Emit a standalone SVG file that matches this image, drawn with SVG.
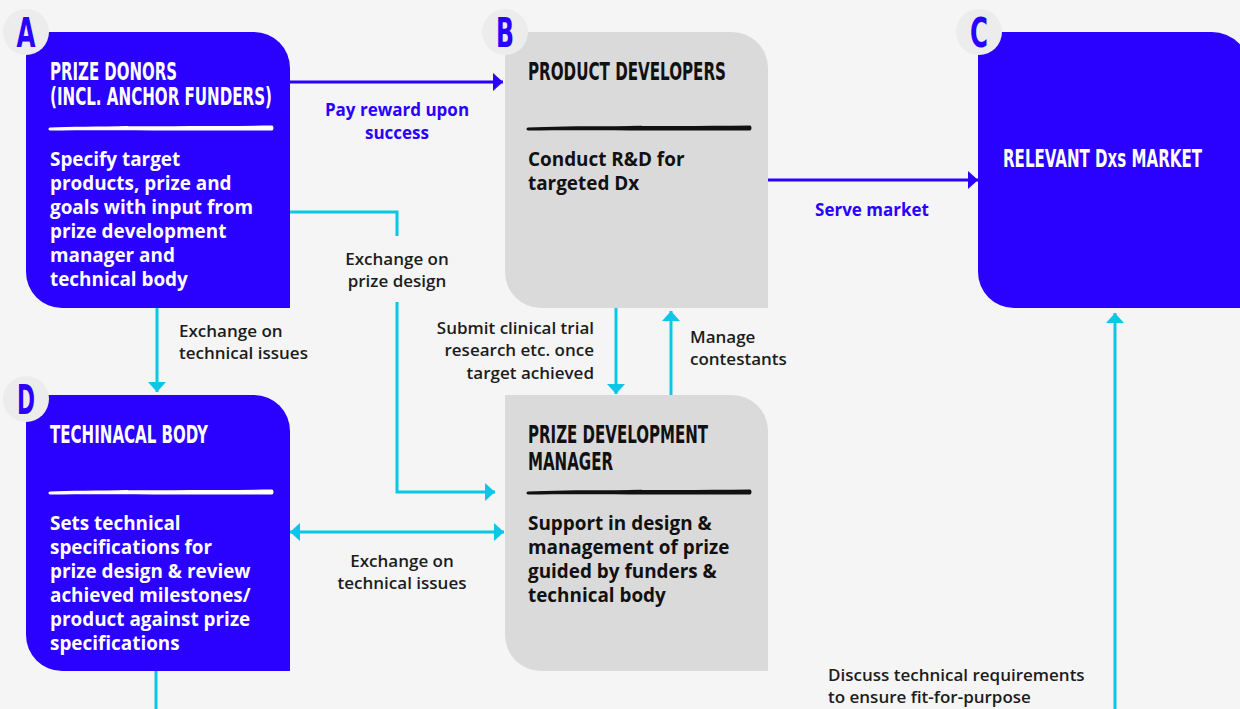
<svg xmlns="http://www.w3.org/2000/svg" width="1240" height="709" viewBox="0 0 1240 709">
  <defs>
    <style>
      .bg { fill: #f5f5f5; }
      .blue { fill: #2a00ff; }
      .grey { fill: #dadada; }
      .badge { fill: #ececec; }
      .badge-txt { font-family: "Liberation Sans Narrow", "DejaVu Sans Condensed", "Liberation Sans", sans-serif; font-weight: 700; font-size: 41px; fill: #2a00ff; text-anchor: middle; }
      .title { font-family: "Liberation Sans Narrow", "DejaVu Sans Condensed", "Liberation Sans", sans-serif; font-weight: 700; font-size: 24px; }
      .body { font-family: "Open Sans", "Liberation Sans", sans-serif; font-weight: 700; font-size: 18.9px; }
      .w { fill: #ffffff; }
      .k { fill: #111111; }
      .lbl { font-family: "Open Sans", "Liberation Sans", sans-serif; font-weight: 600; font-size: 17px; fill: #1c1c1c; }
      .lbl-b { font-family: "Open Sans", "Liberation Sans", sans-serif; font-weight: 700; font-size: 17px; fill: #2a00ff; }
      .mid { text-anchor: middle; }
      .end { text-anchor: end; }
      .cy { stroke: #0bc7e6; stroke-width: 3; fill: none; }
      .bl { stroke: #2a00ff; stroke-width: 3; fill: none; }
    </style>
    <marker id="headCyan" viewBox="0 0 10 18" refX="10" refY="9" markerWidth="10" markerHeight="18" markerUnits="userSpaceOnUse" orient="auto-start-reverse">
      <path d="M0,0 L10,9 L0,18 Z" fill="#0bc7e6"/>
    </marker>
    <marker id="headBlue" viewBox="0 0 10 18" refX="10" refY="9" markerWidth="10" markerHeight="18" markerUnits="userSpaceOnUse" orient="auto-start-reverse">
      <path d="M0,0 L10,9 L0,18 Z" fill="#2a00ff"/>
    </marker>
    <!-- brush-stroke rule used under each box title -->
    <path id="brush" d="M0,1.5 C40,-0.5 120,0.5 222,-0.5 C224,0 224,4 222,4.5 C150,5 60,3.5 0,4.5 C-2,4 -2,2 0,1.5 Z"/>
  </defs>

  <rect class="bg" x="0" y="0" width="1240" height="709"/>

  <!-- connectors -->
  <g id="connectors">
    <path class="bl" d="M290,82 H503" marker-end="url(#headBlue)"/>
    <path class="bl" d="M768,180 H978" marker-end="url(#headBlue)"/>
    <path class="cy" d="M290,212 H397 V236"/>
    <path class="cy" d="M397,302 V492 H495" marker-end="url(#headCyan)"/>
    <path class="cy" d="M157,308 V392" marker-end="url(#headCyan)"/>
    <path class="cy" d="M616,308 V394" marker-end="url(#headCyan)"/>
    <path class="cy" d="M671,395 V311" marker-end="url(#headCyan)"/>
    <path class="cy" d="M290,532 H504" marker-start="url(#headCyan)" marker-end="url(#headCyan)"/>
    <path class="cy" d="M156,671 V709"/>
    <path class="cy" d="M1115,709 V313" marker-end="url(#headCyan)"/>
  </g>

  <!-- A: prize donors -->
  <g id="node-a">
    <path class="blue" d="M26,32 H254 A36,36 0 0 1 290,68 V308 H62 A36,36 0 0 1 26,272 Z"/>
    <text class="title w" x="50" y="80" textLength="127" lengthAdjust="spacingAndGlyphs">PRIZE DONORS</text>
    <text class="title w" x="50" y="105" textLength="222" lengthAdjust="spacingAndGlyphs">(INCL. ANCHOR FUNDERS)</text>
    <use href="#brush" x="50" y="126" fill="#ffffff"/>
    <text class="body w" x="50" y="166">Specify target</text>
    <text class="body w" x="50" y="190">products, prize and</text>
    <text class="body w" x="50" y="214">goals with input from</text>
    <text class="body w" x="50" y="238">prize development</text>
    <text class="body w" x="50" y="262">manager and</text>
    <text class="body w" x="50" y="286">technical body</text>
    <circle class="badge" cx="26" cy="32" r="23"/>
    <text class="badge-txt" x="26" y="47" textLength="19" lengthAdjust="spacingAndGlyphs">A</text>
  </g>

  <!-- B: product developers -->
  <g id="node-b">
    <path class="grey" d="M505,32 H732 A36,36 0 0 1 768,68 V308 H541 A36,36 0 0 1 505,272 Z"/>
    <text class="title k" x="528" y="80" textLength="198" lengthAdjust="spacingAndGlyphs">PRODUCT DEVELOPERS</text>
    <use href="#brush" x="528" y="126" fill="#111111"/>
    <text class="body k" x="528" y="166">Conduct R&amp;D for</text>
    <text class="body k" x="528" y="190">targeted Dx</text>
    <circle class="badge" cx="505" cy="32" r="23"/>
    <text class="badge-txt" x="505" y="47" textLength="18" lengthAdjust="spacingAndGlyphs">B</text>
  </g>

  <!-- C: market (box runs off the right edge) -->
  <g id="node-c">
    <path class="blue" d="M978,32 H1212 A38,38 0 0 1 1250,70 V308 H1014 A36,36 0 0 1 978,272 Z"/>
    <text class="title w" x="1003" y="167" textLength="199" lengthAdjust="spacingAndGlyphs">RELEVANT Dxs MARKET</text>
    <circle class="badge" cx="979" cy="32" r="23"/>
    <text class="badge-txt" x="979" y="47" textLength="18" lengthAdjust="spacingAndGlyphs">C</text>
  </g>

  <!-- D: technical body -->
  <g id="node-d">
    <path class="blue" d="M26,395 H254 A36,36 0 0 1 290,431 V671 H62 A36,36 0 0 1 26,635 Z"/>
    <text class="title w" x="50" y="443" textLength="158" lengthAdjust="spacingAndGlyphs">TECHINACAL BODY</text>
    <use href="#brush" x="50" y="490" fill="#ffffff"/>
    <text class="body w" x="50" y="530">Sets technical</text>
    <text class="body w" x="50" y="554">specifications for</text>
    <text class="body w" x="50" y="578">prize design &amp; review</text>
    <text class="body w" x="50" y="602">achieved milestones/</text>
    <text class="body w" x="50" y="626">product against prize</text>
    <text class="body w" x="50" y="650">specifications</text>
    <circle class="badge" cx="26" cy="399" r="23"/>
    <text class="badge-txt" x="26" y="414" textLength="18" lengthAdjust="spacingAndGlyphs">D</text>
  </g>

  <!-- E: prize development manager -->
  <g id="node-e">
    <path class="grey" d="M505,395 H732 A36,36 0 0 1 768,431 V671 H541 A36,36 0 0 1 505,635 Z"/>
    <text class="title k" x="528" y="443" textLength="180" lengthAdjust="spacingAndGlyphs">PRIZE DEVELOPMENT</text>
    <text class="title k" x="528" y="470" textLength="85" lengthAdjust="spacingAndGlyphs">MANAGER</text>
    <use href="#brush" x="528" y="490" fill="#111111"/>
    <text class="body k" x="528" y="530">Support in design &amp;</text>
    <text class="body k" x="528" y="554">management of prize</text>
    <text class="body k" x="528" y="578">guided by funders &amp;</text>
    <text class="body k" x="528" y="602">technical body</text>
  </g>

  <!-- connector labels -->
  <g id="labels">
    <text class="lbl-b mid" x="397" y="116">Pay reward upon</text>
    <text class="lbl-b mid" x="397" y="139">success</text>
    <text class="lbl-b mid" x="872" y="216">Serve market</text>
    <text class="lbl mid" x="397" y="265">Exchange on</text>
    <text class="lbl mid" x="397" y="287">prize design</text>
    <text class="lbl" x="179" y="337">Exchange on</text>
    <text class="lbl" x="179" y="359">technical issues</text>
    <text class="lbl end" x="594" y="334">Submit clinical trial</text>
    <text class="lbl end" x="594" y="356">research etc. once</text>
    <text class="lbl end" x="594" y="379">target achieved</text>
    <text class="lbl" x="690" y="343">Manage</text>
    <text class="lbl" x="690" y="365">contestants</text>
    <text class="lbl mid" x="402" y="567">Exchange on</text>
    <text class="lbl mid" x="402" y="589">technical issues</text>
    <text class="lbl" x="828" y="681">Discuss technical requirements</text>
    <text class="lbl" x="828" y="703">to ensure fit-for-purpose</text>
  </g>
</svg>
